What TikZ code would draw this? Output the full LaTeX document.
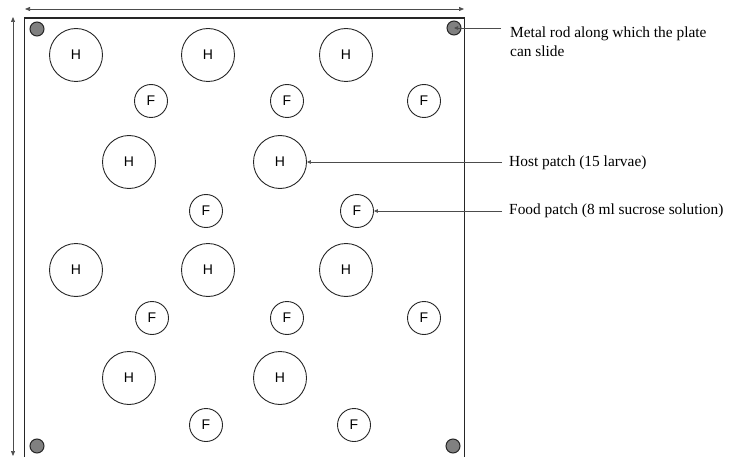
\documentclass[tikz,border=0pt]{standalone}
\usepackage{fontspec}
\setmainfont{Liberation Serif}
\newfontfamily\hfont{Liberation Sans}
\usetikzlibrary{arrows.meta}
\begin{document}
\begin{tikzpicture}[x=1pt,y=-1pt,
  hpatch/.style={circle,draw=black!85,line width=0.9pt,minimum size=53pt,inner sep=0pt,font=\hfont\fontsize{14}{14}\selectfont},
  fpatch/.style={circle,draw=black!85,line width=0.9pt,minimum size=33pt,inner sep=0pt,font=\hfont\fontsize{14}{14}\selectfont},
  rod/.style={circle,draw=black!85,fill=black!50,line width=1pt,minimum size=14pt,inner sep=0pt},
  lbl/.style={anchor=west,font=\fontsize{15.4}{19}\selectfont,align=left,inner sep=0pt},
  ptr/.style={draw=black!70,line width=0.6pt,-{Triangle[length=4pt,width=3.5pt]}},
  dim/.style={draw=black!70,line width=0.7pt,{Triangle[length=5pt,width=4pt]}-{Triangle[length=5pt,width=4pt]}}
]
\useasboundingbox (0,0) rectangle (730,457);
\node[draw=black!85,line width=1.1pt,minimum width=440pt,minimum height=439pt,inner sep=0pt,anchor=north west] (plate) at (24,17.5) {};
\coordinate (tl) at (25,9); \coordinate (tr) at (464,9);
\draw[dim] (tl) -- (tr);
\coordinate (lt) at (13,17); \coordinate (lb) at (13,456);
\draw[dim] (lt) -- (lb);
% rods
\node[rod] (r1) at (37,29) {};
\node[rod] (r2) at (454,28) {};
\node[rod] (r3) at (37,446) {};
\node[rod] (r4) at (453,446) {};
% host patches
\node[hpatch] (h1) at (76,55) {H};
\node[hpatch] (h2) at (208,55) {H};
\node[hpatch] (h3) at (346,55) {H};
\node[hpatch] (h4) at (129,162) {H};
\node[hpatch] (h5) at (280,162) {H};
\node[hpatch] (h6) at (76,270) {H};
\node[hpatch] (h7) at (208,270) {H};
\node[hpatch] (h8) at (346,270) {H};
\node[hpatch] (h9) at (129,378) {H};
\node[hpatch] (h10) at (280,378) {H};
% food patches
\node[fpatch] (f1) at (151,101) {F};
\node[fpatch] (f2) at (287,101) {F};
\node[fpatch] (f3) at (424,101) {F};
\node[fpatch] (f4) at (206,211) {F};
\node[fpatch] (f5) at (357,211) {F};
\node[fpatch] (f6) at (152,318) {F};
\node[fpatch] (f7) at (287,318) {F};
\node[fpatch] (f8) at (424,318) {F};
\node[fpatch] (f9) at (206,425) {F};
\node[fpatch] (f10) at (354,425) {F};
% labels
\node[lbl] (lrod) at (510,42) {Metal rod along which the plate\\can slide};
\node[lbl] (lhost) at (509,163) {Host patch (15 larvae)};
\node[lbl] (lfood) at (509,211) {Food patch (8 ml sucrose solution)};
\coordinate (crod) at (501,28);
\coordinate (chost) at (502,162);
\coordinate (cfood) at (502,211);
\draw[ptr] (crod) -- (r2.center);
\draw[ptr] (chost) -- (h5.east);
\draw[ptr] (cfood) -- (f5.east);
\end{tikzpicture}
\end{document}
